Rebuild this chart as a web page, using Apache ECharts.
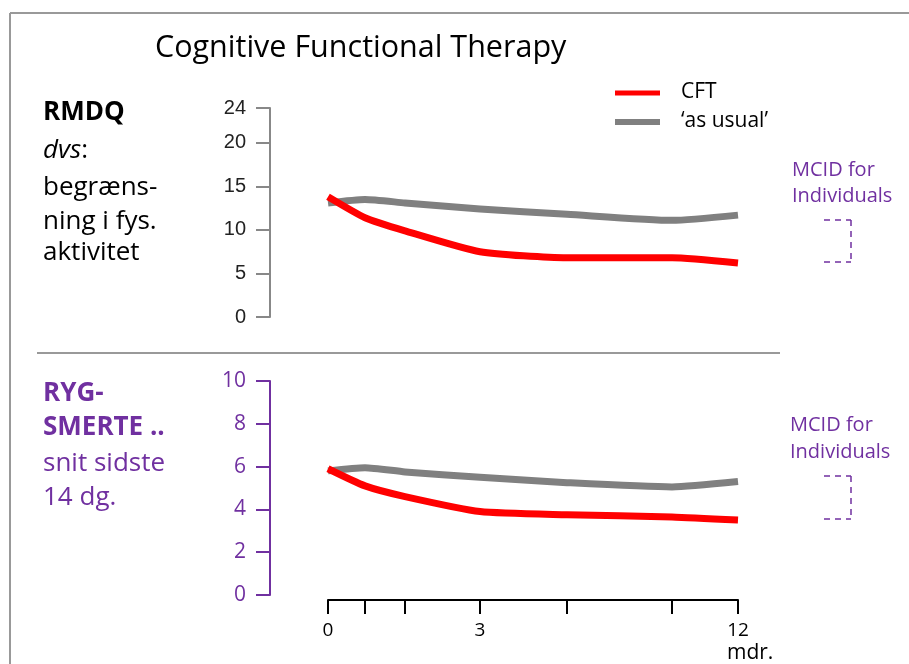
<!DOCTYPE html>
<html>
<head>
<meta charset="utf-8">
<script src="https://cdn.jsdelivr.net/npm/echarts@6/dist/echarts.min.js"></script>
<style>
  html, body { margin: 0; padding: 0; background: #fff; }
  #chart { width: 909px; height: 664px; }
</style>
</head>
<body>
<div id="chart"></div>
<script>
// x positions of the follow-up points (axis is not linear in months)
var xPos = [0, 3.7, 7.7, 15.2, 23.9, 34.4, 41.0];
var xLabels = ['0', '', '', '3', '', '', '12'];

// RMDQ (0-24)
var rmdqCft = [13.8, 11.4, 9.9, 7.5, 6.8, 6.8, 6.2];
var rmdqUsual = [13.1, 13.5, 13.1, 12.4, 11.8, 11.1, 11.7];
var rmdqTicks = [0, 5, 10, 15, 20, 24];

// Rygsmerte (0-10)
var painCft = [5.9, 5.1, 4.6, 3.9, 3.75, 3.65, 3.5];
var painUsual = [5.8, 5.95, 5.75, 5.5, 5.25, 5.05, 5.3];
var painTicks = [0, 2, 4, 6, 8, 10];

var purple = '#7030A0';
var calibri = '"Open Sans", "Noto Sans", sans-serif';

function pairs(ys) {
  return ys.map(function (y, i) { return [xPos[i], y]; });
}

var chart = echarts.init(document.getElementById('chart'));

function txt(x, y, s, style) {
  return {
    type: 'text', left: x, top: y,
    style: Object.assign({ text: s, fill: '#000', font: '26px ' + calibri }, style || {})
  };
}
function seg(x1, y1, x2, y2, color, w, dash) {
  return {
    type: 'line',
    shape: { x1: x1, y1: y1, x2: x2, y2: y2 },
    style: { stroke: color, lineWidth: w, lineDash: dash || null }
  };
}

var option = {
  animation: false,
  grid: [
    { left: 328, top: 108, width: 410, height: 209 },
    { left: 328, top: 381, width: 410, height: 214 }
  ],
  xAxis: [
    {
      gridIndex: 0, type: 'value', min: 0, max: 41, show: false
    },
    {
      gridIndex: 1, type: 'value', min: 0, max: 41, offset: 5,
      splitLine: { show: false },
      axisLine: { show: true, onZero: false, lineStyle: { color: '#000', width: 2 } },
      axisTick: { show: true, length: 14, lineStyle: { color: '#000', width: 2 }, customValues: xPos },
      axisLabel: {
        color: '#000', fontSize: 19, fontFamily: calibri, margin: 21,
        customValues: xPos.filter(function (v, i) { return xLabels[i] !== ''; }),
        formatter: function (v) {
          var i = xPos.indexOf(v);
          return i >= 0 ? xLabels[i] : '';
        }
      }
    }
  ],
  yAxis: [
    {
      gridIndex: 0, type: 'value', min: 0, max: 24, offset: 58,
      splitLine: { show: false },
      axisLine: { show: true, onZero: false, lineStyle: { color: '#888', width: 2 } },
      axisTick: { show: true, length: 14, lineStyle: { color: '#888', width: 2 }, customValues: rmdqTicks },
      axisLabel: {
        color: '#222', fontSize: 20, fontFamily: '"Liberation Sans", Arial, sans-serif', margin: 24,
        customValues: rmdqTicks
      }
    },
    {
      gridIndex: 1, type: 'value', min: 0, max: 10, offset: 58,
      splitLine: { show: false },
      axisLine: { show: true, onZero: false, lineStyle: { color: purple, width: 2 } },
      axisTick: { show: true, length: 14, lineStyle: { color: purple, width: 2 }, customValues: painTicks },
      axisLabel: {
        color: purple, fontSize: 21, fontFamily: calibri, margin: 24,
        customValues: painTicks
      }
    }
  ],
  series: [
    {
      name: "'as usual'", type: 'line', xAxisIndex: 0, yAxisIndex: 0,
      data: pairs(rmdqUsual), showSymbol: false, smooth: 0.2,
      lineStyle: { color: '#808080', width: 7, join: 'round' }
    },
    {
      name: 'CFT', type: 'line', xAxisIndex: 0, yAxisIndex: 0,
      data: pairs(rmdqCft), showSymbol: false, smooth: 0.2,
      lineStyle: { color: '#ff0000', width: 7, join: 'round' }
    },
    {
      name: "'as usual'", type: 'line', xAxisIndex: 1, yAxisIndex: 1,
      data: pairs(painUsual), showSymbol: false, smooth: 0.2,
      lineStyle: { color: '#808080', width: 7, join: 'round' }
    },
    {
      name: 'CFT', type: 'line', xAxisIndex: 1, yAxisIndex: 1,
      data: pairs(painCft), showSymbol: false, smooth: 0.2,
      lineStyle: { color: '#ff0000', width: 7, join: 'round' }
    }
  ],
  graphic: [
    // frame + separator
    seg(10, 13, 909, 13, '#999', 2),
    seg(10, 13, 10, 664, '#999', 2),
    seg(37, 353, 780, 353, '#999', 2),
    // title
    txt(155, 33, 'Cognitive Functional Therapy', { font: '30.5px ' + calibri }),
    // legend
    seg(615, 93, 660, 93, '#ff0000', 5),
    seg(615, 122, 660, 122, '#808080', 6),
    txt(681, 82, 'CFT', { font: '21px ' + calibri }),
    txt(681, 111, '\u2018as usual\u2019', { font: '21px ' + calibri }),
    // left labels, top panel
    txt(43, 100, 'RMDQ', { font: 'bold 26px ' + calibri }),
    {
      type: 'text', left: 43, top: 138,
      style: {
        text: '{i|dvs}:', font: '26px ' + calibri, fill: '#000',
        rich: { i: { fontStyle: 'italic', fontSize: 26, fontFamily: calibri } }
      }
    },
    txt(43, 175, 'begræns-'),
    txt(43, 209, 'ning i fys.'),
    txt(43, 240, 'aktivitet'),
    // left labels, bottom panel
    txt(43, 381, 'RYG-', { font: 'bold 26px ' + calibri, fill: purple }),
    txt(43, 415, 'SMERTE ..', { font: 'bold 26px ' + calibri, fill: purple }),
    txt(43, 451, 'snit sidste', { fill: purple }),
    txt(43, 485, '14 dg.', { fill: purple }),
    // MCID annotations
    {
      type: 'text', left: 792, top: 157,
      style: { text: 'MCID for\nIndividuals', font: '20px ' + calibri, fill: purple, lineHeight: 26 }
    },
    seg(824, 220, 851, 220, purple, 1.5, [6, 5]),
    seg(851, 220, 851, 262, purple, 1.5, [6, 5]),
    seg(824, 262, 851, 262, purple, 1.5, [6, 5]),
    {
      type: 'text', left: 790, top: 412,
      style: { text: 'MCID for\nIndividuals', font: '20px ' + calibri, fill: purple, lineHeight: 27 }
    },
    seg(824, 476, 851, 476, purple, 1.5, [6, 5]),
    seg(851, 476, 851, 519, purple, 1.5, [6, 5]),
    seg(824, 519, 851, 519, purple, 1.5, [6, 5]),
    // unit under axis
    txt(727, 643, 'mdr.', { font: '21px ' + calibri })
  ]
};

chart.setOption(option);
</script>
</body>
</html>
